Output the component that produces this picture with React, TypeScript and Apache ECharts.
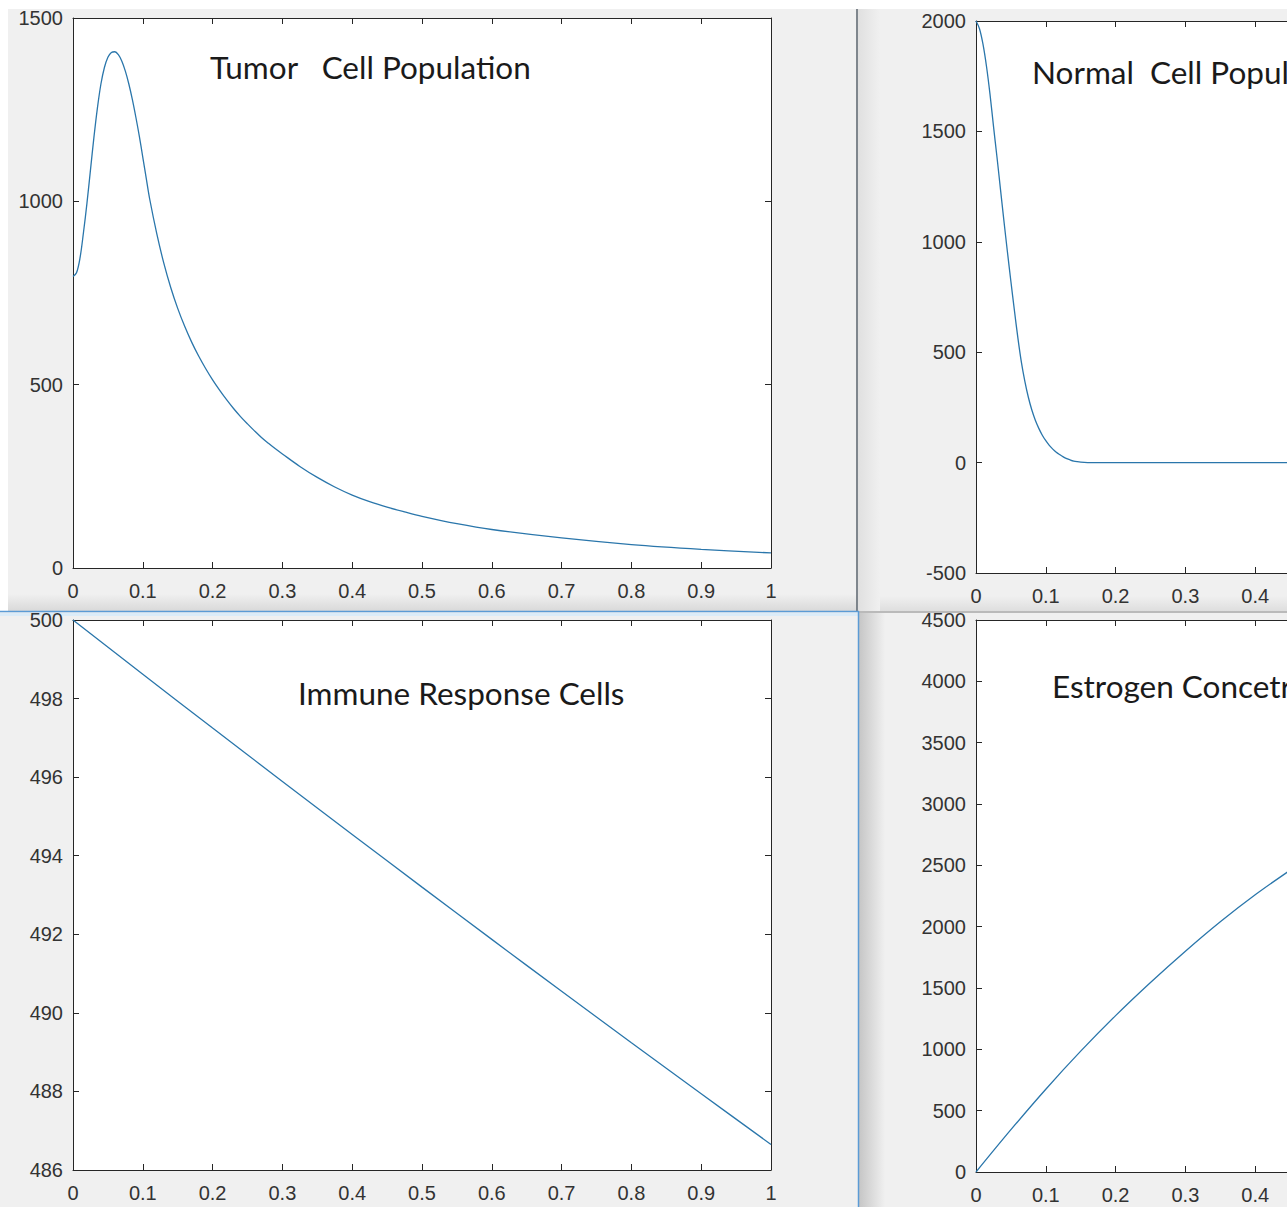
import React, { useEffect, useRef } from "react";
import * as echarts from "echarts";

// Tumor cell population over time
const tumorT = [0, 0.005, 0.01, 0.015, 0.02, 0.025, 0.03, 0.035, 0.04, 0.045, 0.05, 0.055, 0.06, 0.065, 0.07, 0.075, 0.08, 0.085, 0.09, 0.095, 0.1, 0.105, 0.11, 0.12, 0.13, 0.14, 0.15, 0.16, 0.17, 0.18, 0.19, 0.2, 0.21, 0.22, 0.23, 0.24, 0.25, 0.26, 0.27, 0.28, 0.29, 0.3, 0.325, 0.35, 0.375, 0.4, 0.425, 0.45, 0.475, 0.5, 0.55, 0.6, 0.7, 0.8, 0.9, 1.0];
const tumorCells = [795, 805, 845, 915, 995, 1085, 1175, 1255, 1320, 1365, 1393, 1406, 1408, 1400, 1382, 1355, 1320, 1278, 1230, 1178, 1120, 1062, 1005, 912, 832, 765, 708, 659, 616, 578, 544, 513, 485, 459, 435, 413, 393, 374, 356, 340, 325, 311, 277, 247, 221, 199, 181, 166, 153, 141, 121, 105, 82, 64, 51, 41];

// Normal cell population over time
const normalT = [0, 0.005, 0.01, 0.015, 0.02, 0.025, 0.03, 0.035, 0.04, 0.045, 0.05, 0.055, 0.06, 0.065, 0.07, 0.075, 0.08, 0.085, 0.09, 0.095, 0.1, 0.105, 0.11, 0.115, 0.12, 0.125, 0.13, 0.135, 0.14, 0.145, 0.15, 0.16, 0.17, 0.2, 0.3, 0.4, 0.5, 0.6, 0.7, 0.8, 0.9, 1.0];
const normalCells = [2000, 1965, 1895, 1795, 1670, 1525, 1385, 1240, 1095, 955, 820, 690, 565, 455, 368, 296, 238, 192, 155, 124, 99, 78, 61, 47, 36, 26, 18, 12, 7, 4, 2, 0.3, 0, 0, 0, 0, 0, 0, 0, 0, 0, 0];

// Immune response cells over time
const immuneT = [0, 0.1, 0.2, 0.3, 0.4, 0.5, 0.6, 0.7, 0.8, 0.9, 1.0];
const immuneCells = [500, 498.62, 497.25, 495.89, 494.54, 493.2, 491.87, 490.55, 489.24, 487.94, 486.65];

// Estrogen concentration over time
const estrogenT = [0, 0.05, 0.1, 0.15, 0.2, 0.25, 0.3, 0.35, 0.4, 0.45, 0.5, 0.6, 0.7, 0.8, 0.9, 1.0];
const estrogenLevel = [0, 345, 675, 985, 1275, 1545, 1800, 2040, 2260, 2460, 2650, 3020, 3370, 3700, 4010, 4300];

// Panel titles
const titles = ["Tumor   Cell Population", "Normal  Cell Population", "Immune Response Cells", "Estrogen Concetration"];

// Y axis ranges: [min, max, step]
const yRanges = [
  [0, 1500, 500],
  [-500, 2000, 500],
  [486, 500, 2],
  [0, 4500, 500],
];

const seriesList = [
  { t: tumorT, v: tumorCells },
  { t: normalT, v: normalCells },
  { t: immuneT, v: immuneCells },
  { t: estrogenT, v: estrogenLevel },
];

// Layout of the four plot boxes (pixels)
const boxes = [
  { left: 73, top: 18, width: 698, height: 550 },
  { left: 976, top: 21, width: 698, height: 552 },
  { left: 73, top: 620, width: 698, height: 550 },
  { left: 976, top: 620, width: 698, height: 552 },
];
const titlePos = [
  [210, 67],
  [1032, 72],
  [298, 693],
  [1052, 686],
];

const PAGE_W = 1287;
const AXIS = "#262626";
const LABEL = "#333333";
const LINE = "#2a76ab";
const TICK_FONT = "'Liberation Sans', Arial, Helvetica, sans-serif";

function buildOption() {
  const grid: any[] = [];
  const xAxis: any[] = [];
  const yAxis: any[] = [];
  const series: any[] = [];

  boxes.forEach((b, i) => {
    grid.push({
      left: b.left,
      top: b.top,
      width: b.width,
      height: b.height,
      outerBoundsMode: "none",
      containLabel: false,
      show: true,
      backgroundColor: "#ffffff",
      borderWidth: 0,
    });
    const common = {
      gridIndex: i,
      type: "value",
      axisLine: { show: true, onZero: false, lineStyle: { color: AXIS, width: 1 } },
      axisTick: { show: true, inside: true, length: 6, lineStyle: { color: AXIS, width: 1 } },
      splitLine: { show: false },
    };
    // labels whose position falls past the page edge are left blank
    const lastVisible = (PAGE_W - 12 - b.left) / b.width;
    xAxis.push({
      ...common,
      position: "bottom",
      min: 0,
      max: 1,
      interval: 0.1,
      axisLabel: {
        margin: 13,
        color: LABEL,
        fontSize: 20,
        fontFamily: TICK_FONT,
        showMinLabel: true,
        showMaxLabel: true,
        formatter: (v: number) => (v > lastVisible ? "" : String(Math.round(v * 10) / 10)),
      },
    });
    xAxis.push({
      ...common,
      position: "top",
      min: 0,
      max: 1,
      interval: 0.1,
      axisLabel: { show: false },
    });
    const [mn, mx, step] = yRanges[i];
    yAxis.push({
      ...common,
      position: "left",
      min: mn,
      max: mx,
      interval: step,
      axisLabel: {
        margin: 10,
        color: LABEL,
        fontSize: 20,
        fontFamily: TICK_FONT,
        showMinLabel: true,
        showMaxLabel: true,
        formatter: (v: number) => String(v),
      },
    });
    yAxis.push({
      ...common,
      position: "right",
      min: mn,
      max: mx,
      interval: step,
      axisLabel: { show: false },
    });
    const s = seriesList[i];
    series.push({
      type: "line",
      xAxisIndex: i * 2,
      yAxisIndex: i * 2,
      data: s.t.map((x, j) => [x, s.v[j]]),
      showSymbol: false,
      smooth: 0.35,
      clip: true,
      silent: true,
      lineStyle: { color: LINE, width: 1.3 },
    });
  });

  const vGrad = (a: string, b: string) =>
    new echarts.graphic.LinearGradient(0, 0, 0, 1, [
      { offset: 0, color: a },
      { offset: 1, color: b },
    ]);
  const hGrad = (a: string, b: string) =>
    new echarts.graphic.LinearGradient(0, 0, 1, 0, [
      { offset: 0, color: a },
      { offset: 1, color: b },
    ]);

  const graphic: any[] = [
    // page strip around the window frames
    { type: "rect", shape: { x: 0, y: 0, width: PAGE_W, height: 9 }, style: { fill: "#ffffff" }, silent: true },
    { type: "rect", shape: { x: 0, y: 0, width: 8, height: 611 }, style: { fill: "#ffffff" }, silent: true },
    // shadows along window edges
    { type: "rect", shape: { x: 8, y: 594, width: 849, height: 17 }, style: { fill: vGrad("#f0f0f0", "#d9d9d9") }, silent: true },
    { type: "rect", shape: { x: 858, y: 596, width: 429, height: 15 }, style: { fill: vGrad("#f0f0f0", "#dedede") }, silent: true },
    { type: "rect", shape: { x: 858, y: 9, width: 22, height: 602 }, style: { fill: hGrad("#e0e0e0", "#f0f0f0") }, silent: true },
    { type: "rect", shape: { x: 859, y: 613, width: 26, height: 594 }, style: { fill: hGrad("#c6c6c6", "#f0f0f0") }, silent: true },
    { type: "rect", shape: { x: 0, y: 613, width: 858, height: 3 }, style: { fill: "#dcecf8" }, silent: true },
    // frame borders
    { type: "line", shape: { x1: 857, y1: 9, x2: 857, y2: 612 }, style: { stroke: "#5a636d", lineWidth: 1.5 }, silent: true },
    { type: "line", shape: { x1: 858, y1: 612, x2: PAGE_W, y2: 612 }, style: { stroke: "#a8a8a8", lineWidth: 1.5 }, silent: true },
    { type: "line", shape: { x1: 0, y1: 611.5, x2: 859, y2: 611.5 }, style: { stroke: "#5b9bd5", lineWidth: 1.5 }, silent: true },
    { type: "line", shape: { x1: 858.5, y1: 611, x2: 858.5, y2: 1207 }, style: { stroke: "#5b9bd5", lineWidth: 1.5 }, silent: true },
  ];

  titles.forEach((txt, i) => {
    graphic.push({
      type: "text",
      x: titlePos[i][0],
      y: titlePos[i][1],
      z: 100,
      silent: true,
      style: {
        text: txt,
        fill: "#1a1a1a",
        font: "31.5px Lato, 'Open Sans', sans-serif",
        verticalAlign: "middle",
        align: "left",
      },
    });
  });

  return {
    animation: false,
    backgroundColor: "#f0f0f0",
    grid,
    xAxis,
    yAxis,
    series,
    graphic,
  };
}

export default function App() {
  const ref = useRef<HTMLDivElement>(null);
  useEffect(() => {
    if (!ref.current) return;
    const chart = echarts.init(ref.current, null, { renderer: "svg" });
    chart.setOption(buildOption());
    return () => chart.dispose();
  }, []);
  return (
    <div
      ref={ref}
      style={{ position: "fixed", left: 0, top: 0, width: PAGE_W, height: 1207 }}
    />
  );
}
